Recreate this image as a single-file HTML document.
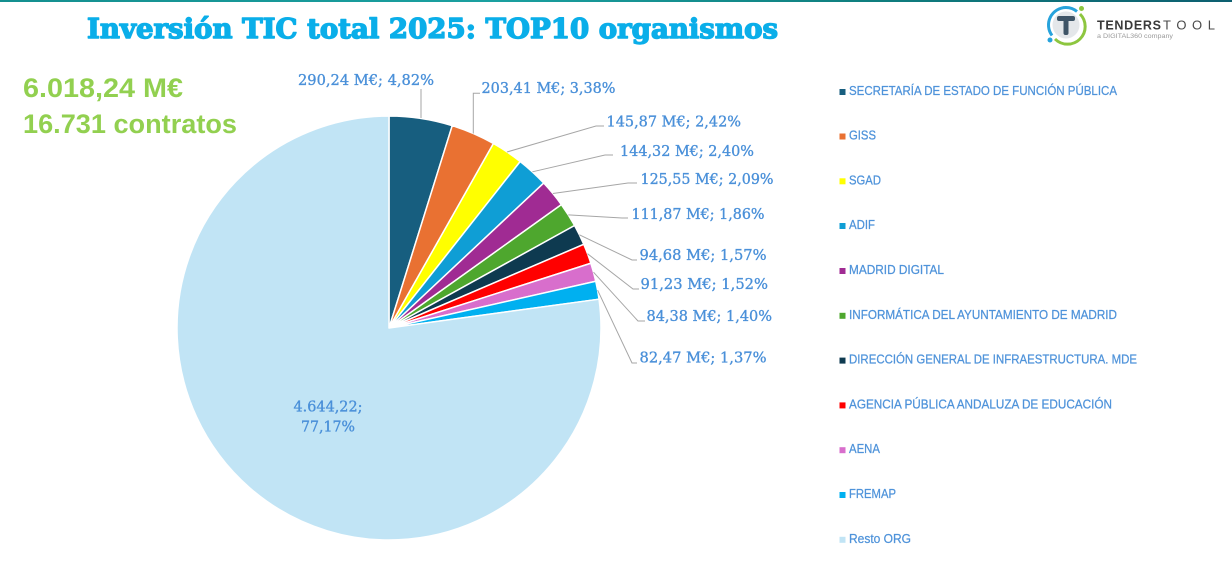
<!DOCTYPE html>
<html>
<head>
<meta charset="utf-8">
<style>
html,body{margin:0;padding:0;background:#fff;}
body{width:1232px;height:573px;overflow:hidden;}
svg{display:block;}
</style>
</head>
<body>
<svg width="1232" height="573" viewBox="0 0 1232 573" xmlns="http://www.w3.org/2000/svg">
<defs>
<linearGradient id="topg" x1="0" y1="0" x2="1" y2="0">
<stop offset="0" stop-color="#148f8f"/>
<stop offset="0.4" stop-color="#1aa0a0"/>
<stop offset="0.7" stop-color="#0f7f7f"/>
<stop offset="1" stop-color="#0d5f70"/>
</linearGradient>
</defs>
<rect x="0" y="0" width="1232" height="2" fill="url(#topg)"/>

<!-- Title -->
<text x="87" y="38" font-family="'DejaVu Serif', 'Liberation Serif', serif" font-weight="bold" font-size="27" fill="#0aaee9" stroke="#0aaee9" stroke-width="1.4" stroke-linejoin="round" textLength="691" lengthAdjust="spacingAndGlyphs">Inversión TIC total 2025: TOP10 organismos</text>

<!-- Stats -->
<text x="23" y="97" font-family="'Liberation Sans', sans-serif" font-weight="bold" font-size="26.5" fill="#92d050" textLength="160" lengthAdjust="spacingAndGlyphs">6.018,24 M€</text>
<text x="23" y="133" font-family="'Liberation Sans', sans-serif" font-weight="bold" font-size="26.5" fill="#92d050" textLength="214" lengthAdjust="spacingAndGlyphs">16.731 contratos</text>

<!-- Logo -->
<g>
<circle cx="1066" cy="25" r="13.5" fill="#e4e7ea"/>
<path d="M1066 7.5 A17.5 17.5 0 0 0 1052 35.5" fill="none" stroke="#27a3dc" stroke-width="3"/>
<path d="M1066 7.5 A17.5 17.5 0 0 1 1077 11.5" fill="none" stroke="#27a3dc" stroke-width="3"/>
<path d="M1080 14 A17.5 17.5 0 0 1 1055 39" fill="none" stroke="#8dc63f" stroke-width="3"/>
<circle cx="1050" cy="40" r="2.5" fill="#27a3dc"/>
<circle cx="1081.5" cy="8.5" r="2.5" fill="#8dc63f"/>
<rect x="1057" y="16" width="18" height="5" rx="2" fill="#3f5567"/>
<rect x="1063.5" y="16" width="5" height="19" rx="2" fill="#3f5567"/>
<text x="1097" y="29.5" font-family="'Liberation Sans', sans-serif" font-weight="bold" font-size="12.5" fill="#3a3a3a" textLength="64" lengthAdjust="spacing">TENDERS</text>
<text x="1163" y="29.5" font-family="'Liberation Sans', sans-serif" font-size="13" fill="#4a4a4a" textLength="52" lengthAdjust="spacing">TOOL</text>
<text x="1097" y="38" font-family="'Liberation Sans', sans-serif" font-size="6.5" fill="#9a9a9a" textLength="76" lengthAdjust="spacingAndGlyphs">a DIGITAL360 company</text>
</g>

<!-- Pie -->
<g stroke="#ffffff" stroke-width="1.5" stroke-linejoin="round">
<path d="M389 328 L389 116 A212 212 0 0 1 452.23 125.65 Z" fill="#175e7f"/>
<path d="M389 328 L452.23 125.65 A212 212 0 0 1 493.45 143.52 Z" fill="#e97132"/>
<path d="M389 328 L493.45 143.52 A212 212 0 0 1 520.21 161.49 Z" fill="#ffff00"/>
<path d="M389 328 L520.21 161.49 A212 212 0 0 1 543.69 183.04 Z" fill="#0f9ed5"/>
<path d="M389 328 L543.69 183.04 A212 212 0 0 1 561.41 204.64 Z" fill="#a02b93"/>
<path d="M389 328 L561.41 204.64 A212 212 0 0 1 574.60 225.53 Z" fill="#4ea72e"/>
<path d="M389 328 L574.60 225.53 A212 212 0 0 1 583.77 244.30 Z" fill="#0e3a50"/>
<path d="M389 328 L583.77 244.30 A212 212 0 0 1 590.87 263.25 Z" fill="#ff0000"/>
<path d="M389 328 L590.87 263.25 A212 212 0 0 1 595.77 281.23 Z" fill="#d86ecc"/>
<path d="M389 328 L595.77 281.23 A212 212 0 0 1 599.03 299.19 Z" fill="#00b0f0"/>
<path d="M389 328 L599.03 299.19 A212 212 0 1 1 389 116 Z" fill="#c1e4f5"/>
</g>

<!-- Leader lines -->
<g fill="none" stroke="#a6a6a6" stroke-width="1">
<polyline points="421,118 421,89"/>
<polyline points="473.3,133.5 473.3,93.3 480,93.3"/>
<polyline points="507,152 596,126 604,126"/>
<polyline points="532.4,171.8 605,155 613,155"/>
<polyline points="552.9,193.5 628,183 637,183"/>
<polyline points="568.3,214.9 622,218 628,218"/>
<polyline points="579.4,234.8 632,260 637,260"/>
<polyline points="587.5,253.7 633,289 639,289"/>
<polyline points="593.5,272.2 638,321 645,321"/>
<polyline points="597.6,290.2 632,363 637,363"/>
</g>

<!-- Data labels -->
<g font-family="'DejaVu Serif', 'Liberation Serif', serif" font-size="15" fill="#4a90d9" stroke="#4a90d9" stroke-width="0.35">
<text x="298" y="85" textLength="136" lengthAdjust="spacingAndGlyphs">290,24 M€; 4,82%</text>
<text x="481.5" y="93" textLength="134" lengthAdjust="spacingAndGlyphs">203,41 M€; 3,38%</text>
<text x="606.5" y="126.5" textLength="134.5" lengthAdjust="spacingAndGlyphs">145,87 M€; 2,42%</text>
<text x="620" y="156" textLength="134" lengthAdjust="spacingAndGlyphs">144,32 M€; 2,40%</text>
<text x="640.5" y="184" textLength="133" lengthAdjust="spacingAndGlyphs">125,55 M€; 2,09%</text>
<text x="631.5" y="219" textLength="133" lengthAdjust="spacingAndGlyphs">111,87 M€; 1,86%</text>
<text x="639.5" y="260" textLength="127" lengthAdjust="spacingAndGlyphs">94,68 M€; 1,57%</text>
<text x="640.5" y="289" textLength="127.5" lengthAdjust="spacingAndGlyphs">91,23 M€; 1,52%</text>
<text x="646.5" y="321" textLength="125.5" lengthAdjust="spacingAndGlyphs">84,38 M€; 1,40%</text>
<text x="639.5" y="362.5" textLength="127" lengthAdjust="spacingAndGlyphs">82,47 M€; 1,37%</text>
<text x="293.5" y="411.5" textLength="69" lengthAdjust="spacingAndGlyphs">4.644,22;</text>
<text x="301" y="431.5" textLength="54" lengthAdjust="spacingAndGlyphs">77,17%</text>
</g>

<!-- Legend -->
<g>
<rect x="839.5" y="89" width="6" height="6" fill="#175e7f"/>
<rect x="839.5" y="133.5" width="6" height="6" fill="#e97132"/>
<rect x="839.5" y="178.3" width="6" height="6" fill="#ffff00"/>
<rect x="839.5" y="223" width="6" height="6" fill="#0f9ed5"/>
<rect x="839.5" y="268" width="6" height="6" fill="#a02b93"/>
<rect x="839.5" y="312.8" width="6" height="6" fill="#4ea72e"/>
<rect x="839.5" y="357.6" width="6" height="6" fill="#0e3a50"/>
<rect x="839.5" y="402.4" width="6" height="6" fill="#ff0000"/>
<rect x="839.5" y="447.2" width="6" height="6" fill="#d86ecc"/>
<rect x="839.5" y="492" width="6" height="6" fill="#00b0f0"/>
<rect x="839.5" y="536.8" width="6" height="6" fill="#c1e4f5"/>
</g>
<g font-family="'Liberation Sans', sans-serif" font-size="12.5" fill="#4f93da" stroke="#4f93da" stroke-width="0.25">
<text x="849" y="95" textLength="268" lengthAdjust="spacingAndGlyphs">SECRETARÍA DE ESTADO DE FUNCIÓN PÚBLICA</text>
<text x="849" y="139.5" textLength="27" lengthAdjust="spacingAndGlyphs">GISS</text>
<text x="849" y="184.3" textLength="32" lengthAdjust="spacingAndGlyphs">SGAD</text>
<text x="849" y="229" textLength="26" lengthAdjust="spacingAndGlyphs">ADIF</text>
<text x="849" y="274" textLength="95" lengthAdjust="spacingAndGlyphs">MADRID DIGITAL</text>
<text x="849" y="318.8" textLength="268" lengthAdjust="spacingAndGlyphs">INFORMÁTICA DEL AYUNTAMIENTO DE MADRID</text>
<text x="849" y="363.6" textLength="288" lengthAdjust="spacingAndGlyphs">DIRECCIÓN GENERAL DE INFRAESTRUCTURA. MDE</text>
<text x="849" y="408.4" textLength="263" lengthAdjust="spacingAndGlyphs">AGENCIA PÚBLICA ANDALUZA DE EDUCACIÓN</text>
<text x="849" y="453.2" textLength="31" lengthAdjust="spacingAndGlyphs">AENA</text>
<text x="849" y="498" textLength="47" lengthAdjust="spacingAndGlyphs">FREMAP</text>
<text x="849" y="542.8" textLength="62" lengthAdjust="spacingAndGlyphs">Resto ORG</text>
</g>
</svg>
</body>
</html>
